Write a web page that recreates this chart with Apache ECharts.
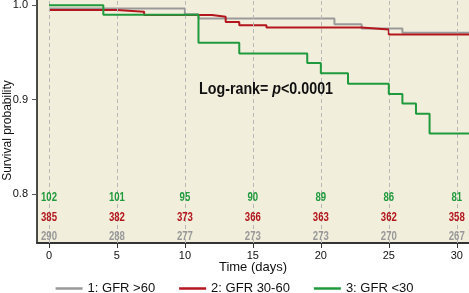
<!DOCTYPE html>
<html><head><meta charset="utf-8">
<script src="https://cdn.jsdelivr.net/npm/echarts@6/dist/echarts.min.js"></script>
<style>html,body{margin:0;padding:0;background:#fff}#c{width:469px;height:293px}</style>
</head><body><div id="c"></div>
<script>
// Kaplan-Meier step data (time in days, survival probability)
const grayTimes  = [0, 10, 11, 21, 23, 26, 30.9];
const graySurv   = [0.9968, 0.9905, 0.986, 0.980, 0.9755, 0.971, 0.971];
const redTimes   = [0, 5, 7, 12, 13, 14, 16, 23, 25, 30.9];
const redSurv    = [0.995, 0.9933, 0.9897, 0.988, 0.9825, 0.979, 0.9765, 0.9745, 0.969, 0.969];
const greenTimes = [0, 4, 11, 14, 19, 20, 22, 25, 26, 27, 28, 30.9];
const greenSurv  = [1.0, 0.990, 0.9603, 0.949, 0.939, 0.928, 0.917, 0.906, 0.896, 0.885, 0.864, 0.864];

const seriesNames = ['1: GFR >60', '2: GFR 30-60', '3: GFR <30'];
const riskDays    = [0, 5, 10, 15, 20, 25, 30];
const riskGreen   = [102, 101, 95, 90, 89, 86, 81];
const riskRed     = [385, 382, 373, 366, 363, 362, 358];
const riskGray    = [290, 288, 277, 273, 273, 270, 267];
const xTicks      = [0, 5, 10, 15, 20, 25, 30];
const yTicks      = [0.8, 0.9, 1.0];

const C_GRAY = '#999999', C_RED = '#b3161d', C_GREEN = '#1f9a3d';
const SANS = '"Liberation Sans", Arial, sans-serif';

function pairs(xs, ys) { return xs.map((x, i) => [x, ys[i]]); }
function kmSeries(name, xs, ys, color, z) {
  return { name, type: 'line', step: 'end', showSymbol: false, z,
    lineStyle: { color, width: 2 }, itemStyle: { color },
    data: pairs(xs, ys), animation: false };
}

const chart = echarts.init(document.getElementById('c'), null, { renderer: 'canvas' });
chart.setOption({
  animation: false,
  grid: { left: 37, right: 0, top: 0, bottom: 50, outerBoundsMode: 'none', containLabel: false,
          show: true, backgroundColor: '#f2eedc', borderWidth: 0 },
  xAxis: {
    type: 'value', min: -0.88, max: 30.9,
    name: 'Time (days)', nameLocation: 'middle', nameGap: 18, nameMoveOverlap: false,
    nameTextStyle: { fontFamily: SANS, fontSize: 13, color: '#111' },
    axisLine: { show: true, onZero: false, lineStyle: { color: '#333', width: 2 } },
    axisTick: { show: true, customValues: xTicks, length: 5, lineStyle: { color: '#333' } },
    axisLabel: { customValues: xTicks, margin: 7, fontFamily: SANS, fontSize: 11, color: '#111', hideOverlap: false },
    splitLine: { show: false }
  },
  yAxis: {
    type: 'value', min: 0.748, max: 1.0057,
    name: 'Survival probability', nameLocation: 'middle', nameGap: 23, nameRotate: 90, nameMoveOverlap: false,
    nameTextStyle: { fontFamily: SANS, fontSize: 12, color: '#111', padding: [0, 18, 0, 0] },
    axisLine: { show: true, onZero: false, lineStyle: { color: '#111', width: 1.5 } },
    axisTick: { show: true, customValues: yTicks, length: 5, lineStyle: { color: '#555' } },
    axisLabel: { customValues: yTicks, margin: 9, fontFamily: SANS, fontSize: 11, color: '#111', hideOverlap: false,
      formatter: v => v.toFixed(1) },
    splitLine: { show: false }
  },
  legend: {
    top: 277, left: 'center', itemGap: 24, itemWidth: 27, itemHeight: 2.5, icon: 'rect',
    textStyle: { fontFamily: SANS, fontSize: 13, color: '#111' },
    data: seriesNames
  },
  series: [
    { type: 'line', data: [], silent: true, markLine: { symbol: 'none', silent: true, animation: false, label: { show: false },
        lineStyle: { color: '#b8b8b8', type: [4, 3], width: 1 },
        data: xTicks.map(v => ({ xAxis: v })) } },
    kmSeries(seriesNames[0], grayTimes, graySurv, C_GRAY, 3),
    kmSeries(seriesNames[1], redTimes, redSurv, C_RED, 4),
    kmSeries(seriesNames[2], greenTimes, greenSurv, C_GREEN, 5)
  ]
});

// condensed text helpers (scale regular bold sans horizontally)
const mctx = document.createElement('canvas').getContext('2d');
function textW(str, size, style) { mctx.font = (style || '') + ' bold ' + size + 'px ' + SANS; return mctx.measureText(str).width; }

const graphics = [];
const rows = [[riskGreen, C_GREEN, 198], [riskRed, C_RED, 218], [riskGray, C_GRAY, 237]];
rows.forEach(([vals, color, py]) => {
  vals.forEach((v, i) => {
    const px = chart.convertToPixel({ xAxisIndex: 0 }, riskDays[i]);
    graphics.push({ type: 'text', x: px, y: py, scaleX: 0.8, z: 50,
      style: { text: String(v), fill: color, font: 'bold 12px ' + SANS, textAlign: 'center', textVerticalAlign: 'middle' } });
  });
});
const fs = 16;
const full = textW('Log-rank= ', fs) + textW('p', fs, 'italic') + textW('<0.0001', fs);
const sx = 134 / full;
graphics.push({ type: 'text', x: 199, y: 90, scaleX: sx, z: 60,
  style: { rich: {
      a: { fontFamily: SANS, fontWeight: 'bold', fontSize: fs, fill: '#111' },
      i: { fontFamily: SANS, fontWeight: 'bold', fontStyle: 'italic', fontSize: fs, fill: '#111' } },
    text: '{a|Log-rank= }{i|p}{a|<0.0001}', textVerticalAlign: 'middle' } });
chart.setOption({ graphic: graphics });
</script></body></html>
